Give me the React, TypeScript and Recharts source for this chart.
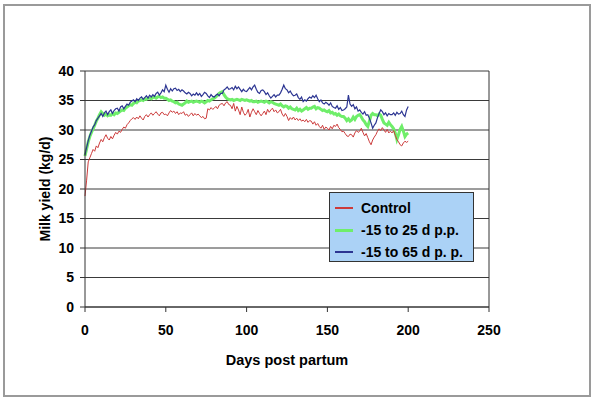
import React from "react";
import { LineChart, Line, XAxis, YAxis, CartesianGrid, ReferenceLine } from "recharts";

const control: number[] = [
  18.8, 21.5, 24.6, 25.3, 26.0, 26.7, 26.4, 27.3, 27.0, 27.8,
  28.4, 28.0, 28.7, 29.2, 28.6, 28.3, 28.9, 28.5, 29.1, 29.6,
  29.3, 29.8, 29.6, 30.1, 30.5, 30.3, 30.9, 31.2, 31.6, 31.9,
  32.1, 31.8, 32.2, 31.9, 32.4, 32.0, 31.7, 32.3, 32.6, 32.2,
  32.6, 32.9, 32.5, 32.8, 33.1, 32.7, 32.4, 32.9, 33.0, 32.6,
  32.7, 32.4, 32.9, 33.3, 33.0, 33.2, 32.8, 33.1, 32.6, 32.9,
  32.8, 33.1, 32.5, 32.7, 32.3, 32.6, 32.9, 32.4, 32.8, 32.5,
  32.7, 32.4, 32.1, 32.3, 31.9, 32.0, 33.6, 33.4, 33.8, 33.5,
  33.7, 34.0, 33.6, 34.2, 34.4, 34.5, 34.1, 34.6, 34.8, 34.3,
  34.2, 33.6, 34.5, 33.2, 34.0, 33.4, 32.6, 33.9, 33.0, 32.5,
  32.8, 33.5, 32.2, 33.0, 33.6, 33.1, 32.6, 33.3, 32.8, 32.4,
  32.8, 33.2, 32.6, 33.5, 33.0, 33.4, 33.7, 33.1, 33.4, 32.9,
  33.1, 33.5, 32.7, 32.3, 32.8, 32.3, 31.6, 32.1, 31.8, 32.2,
  31.7, 32.0, 31.6, 31.9, 31.5, 31.7, 31.4, 31.8, 31.3, 31.6,
  31.5, 31.0, 31.4, 30.8, 31.1, 30.6, 30.3, 30.8, 30.1, 30.5,
  30.3, 30.0, 30.6, 30.2, 30.8, 30.6, 31.0, 30.4, 30.1, 29.7,
  29.8, 29.4, 29.0, 28.9, 29.3, 29.2, 28.8, 29.5, 29.9, 29.6,
  29.8, 30.3, 29.6, 29.0, 29.4, 28.7, 28.0, 27.5, 28.3, 28.8,
  29.2, 29.8, 30.2, 29.9, 30.4, 30.0, 29.6, 30.1, 29.5, 29.8,
  29.5, 29.9, 29.1, 28.4, 28.0, 27.5, 27.3, 27.8, 28.1, 27.9,
  28.1,
];

const early: number[] = [
  25.6, 26.8, 28.0, 28.9, 29.6, 30.2, 30.8, 31.5, 32.0, 32.6,
  33.1, 32.8, 32.5, 32.7, 32.4, 32.6, 32.5, 32.8, 32.6, 32.9,
  32.8, 33.0, 33.2, 33.4, 33.3, 33.7, 33.9, 34.1, 34.3, 34.2,
  34.5, 34.7, 34.6, 34.9, 35.0, 35.1, 35.0, 35.3, 35.2, 35.4,
  35.4, 35.3, 35.5, 35.6, 35.4, 35.6, 35.7, 35.5, 35.6, 35.4,
  35.4, 35.2, 35.0, 35.1, 34.9, 34.8, 34.6, 34.7, 34.4, 34.3,
  34.2, 34.4, 34.6, 34.9, 34.7, 34.8, 34.9, 34.7, 34.8, 34.9,
  34.8, 34.7, 34.9, 34.8, 34.6, 34.8, 35.0, 34.9, 35.1, 35.3,
  35.4, 35.6, 35.9, 36.2, 36.4, 36.5, 36.0, 35.6, 35.3, 35.2,
  35.1, 35.2, 35.0, 35.1, 35.2, 35.1, 35.0, 35.2, 35.1, 35.0,
  35.1, 35.0, 34.9, 35.0, 34.8, 34.8, 34.9, 34.7, 34.8, 34.9,
  34.8, 34.7, 34.9, 34.8, 34.6, 34.8, 34.7, 34.5, 34.4, 34.3,
  34.2, 34.4, 34.1, 33.9, 34.1, 34.0, 33.7, 33.9, 33.6, 33.5,
  33.4, 33.7, 33.3, 33.5, 33.2, 33.4, 33.6, 33.8, 33.5, 33.7,
  33.7, 33.9, 34.0, 33.6, 33.8, 33.7, 33.5, 33.3, 33.4, 33.2,
  33.1, 33.3, 32.9, 33.0, 32.7, 32.8, 32.5, 32.7, 32.4, 32.3,
  32.3, 32.0, 31.6, 31.9, 31.5, 31.7, 32.2, 31.8, 32.3, 32.5,
  32.6, 32.2, 31.7, 31.4, 30.9, 30.6, 31.5, 32.5, 32.8, 32.6,
  32.6, 32.4, 32.7, 32.5, 31.8, 31.2, 31.0, 30.8, 31.3, 30.9,
  30.6, 30.2, 29.5, 28.4, 29.2, 30.1, 30.6, 29.8, 28.9, 29.3,
  29.5,
];

const extended: number[] = [
  25.8, 27.0, 28.2, 29.1, 29.8, 30.5, 30.9, 31.6, 32.0, 32.4,
  32.8, 32.3, 32.9, 33.2, 32.6, 33.1, 33.4, 32.8, 33.3, 33.6,
  33.7, 33.2, 33.9, 34.1, 33.6, 34.0, 34.4, 34.2, 34.7, 34.9,
  35.1, 34.8, 35.3, 35.0, 35.4, 35.6, 35.2, 35.5, 35.8, 35.4,
  35.9, 35.6, 36.0, 35.7, 36.2, 36.4, 35.9, 36.3, 36.8, 36.5,
  37.6, 36.9, 36.4, 37.0, 36.6, 37.0, 37.1, 36.7, 36.9, 36.5,
  36.8, 36.6, 36.3, 36.1, 36.4, 36.2, 35.8, 36.1, 35.9, 36.3,
  35.9, 36.2, 35.7, 36.0, 36.4, 36.2, 35.8, 35.5, 36.0, 35.7,
  35.6, 35.9, 36.1, 35.8, 36.2, 36.2, 36.8, 37.0, 37.3, 36.9,
  37.0, 37.2, 36.8, 37.4, 37.0, 37.3, 36.9, 36.5, 36.9, 36.6,
  36.5, 36.9, 37.2, 36.8, 37.3, 37.6, 36.9, 36.4, 36.2, 36.7,
  36.8, 36.5, 36.0, 36.3, 35.8, 35.4, 35.7, 36.0, 35.6, 35.9,
  35.9, 36.3, 36.9, 37.6, 37.0, 36.8, 36.3, 36.6, 36.1, 35.8,
  35.9, 36.1, 35.5, 35.2, 35.6, 34.8, 35.1, 34.9, 35.3, 35.6,
  35.4, 35.8, 35.5, 35.9, 35.3, 34.8, 35.1, 34.6, 34.4, 34.7,
  34.5, 34.2, 34.6, 34.0, 33.8, 33.7, 34.1, 33.5, 33.8, 33.3,
  33.4, 33.6, 33.9, 35.9, 34.4, 34.0, 34.3, 33.6, 33.9, 33.2,
  33.4, 33.0, 32.7, 33.1, 32.5, 32.6, 32.0, 31.2, 30.3, 30.8,
  31.2, 32.1, 32.8, 33.4, 33.1, 32.6, 32.9, 32.4, 32.8, 32.6,
  32.6, 32.9, 32.5, 33.0, 32.7, 32.8, 33.2, 32.6, 32.3, 33.4,
  34.0,
];

const seriesNames = ["Control", "-15 to 25 d p.p.", "-15 to 65 d p. p."];
const seriesColors = ["#cc3b3b", "#6fee6a", "#2c3592"];
const xTicks = [0, 50, 100, 150, 200, 250];
const yTicks = [0, 5, 10, 15, 20, 25, 30, 35, 40];

const data = control.map((c, i) => ({
  day: i,
  control: c,
  early: early[i],
  extended: extended[i],
}));

const FONT = "'Liberation Sans', Arial, sans-serif";

export default function App() {
  const tickStyle = { fill: "#000", fontSize: 14, fontWeight: 700, fontFamily: FONT };
  return (
    <div style={{ position: "fixed", left: 0, top: 0, width: 593, height: 399, background: "#fff" }}>
      <div
        style={{
          position: "absolute",
          left: 3,
          top: 4,
          width: 588,
          height: 393,
          border: "2px solid #9a9a9a",
          boxSizing: "border-box",
        }}
      />
      <LineChart
        width={593}
        height={399}
        data={data}
        margin={{ top: 71, right: 104, bottom: 0, left: 0 }}
        style={{ position: "absolute", left: 0, top: 0 }}
      >
        <CartesianGrid horizontal vertical={false} stroke="#3a3a3a" strokeWidth={1} />
        <XAxis
          dataKey="day"
          type="number"
          domain={[0, 250]}
          ticks={xTicks}
          height={92}
          tickSize={5}
          tickMargin={13}
          tick={tickStyle}
          stroke="#333"
          label={{
            value: "Days post partum",
            position: "insideTop",
            offset: 48,
            style: { fill: "#000", fontSize: 14.5, fontWeight: 700, fontFamily: FONT },
          }}
        />
        <YAxis
          type="number"
          domain={[0, 40]}
          ticks={yTicks}
          width={85}
          tickSize={5}
          tickMargin={6}
          tick={tickStyle}
          stroke="#333"
          label={{
            value: "Milk yield (kg/d)",
            angle: -90,
            position: "insideLeft",
            offset: 45,
            style: { textAnchor: "middle", fill: "#000", fontSize: 14, fontWeight: 700, fontFamily: FONT },
          }}
        />
        <ReferenceLine x={250} stroke="#333" strokeWidth={1} ifOverflow="extendDomain" />
        <Line
          dataKey="early"
          name={seriesNames[1]}
          stroke={seriesColors[1]}
          strokeWidth={3}
          dot={false}
          isAnimationActive={false}
        />
        <Line
          dataKey="control"
          name={seriesNames[0]}
          stroke={seriesColors[0]}
          strokeWidth={1}
          dot={false}
          isAnimationActive={false}
        />
        <Line
          dataKey="extended"
          name={seriesNames[2]}
          stroke={seriesColors[2]}
          strokeWidth={1.2}
          dot={false}
          isAnimationActive={false}
        />
      </LineChart>
      <div
        style={{
          position: "absolute",
          left: 329,
          top: 192,
          width: 145,
          height: 70,
          background: "#abd2f6",
          border: "1px solid #333",
          boxSizing: "border-box",
          paddingTop: 4,
        }}
      >
        {seriesNames.map((n, i) => (
          <div key={n} style={{ display: "flex", alignItems: "center", height: 22 }}>
            <div style={{ width: 18, height: i === 1 ? 3 : 2, background: seriesColors[i], marginLeft: 5, marginRight: 8 }} />
            <span style={{ fontFamily: FONT, fontSize: 14, fontWeight: 700, color: "#000", whiteSpace: "nowrap" }}>{n}</span>
          </div>
        ))}
      </div>
    </div>
  );
}
